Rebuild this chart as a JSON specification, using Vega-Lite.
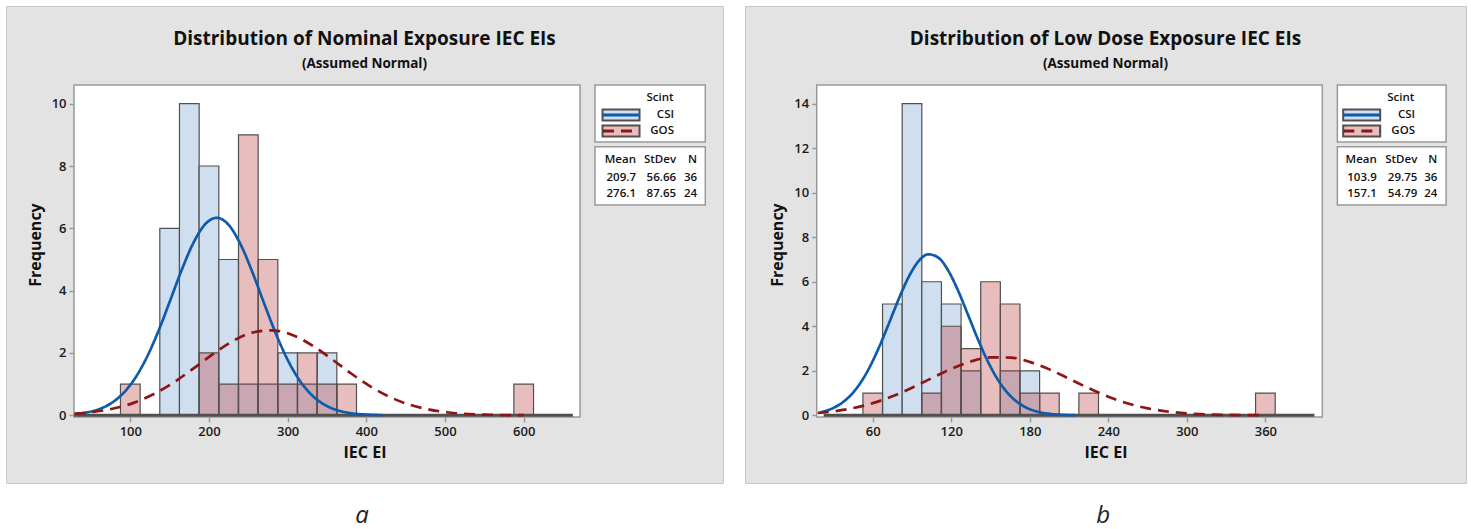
{
  "$schema": "https://vega.github.io/schema/vega-lite/v6.json",
  "background": "#ffffff",
  "padding": {"left": 5, "top": 5, "right": 0, "bottom": 0},
  "spacing": 20,
  "datasets": {
    "binsA": [
      {"Scint": "CSI", "lo": 137.5, "hi": 162.5, "count": 6},
      {"Scint": "CSI", "lo": 162.5, "hi": 187.5, "count": 10},
      {"Scint": "CSI", "lo": 187.5, "hi": 212.5, "count": 8},
      {"Scint": "CSI", "lo": 212.5, "hi": 237.5, "count": 5},
      {"Scint": "CSI", "lo": 237.5, "hi": 262.5, "count": 1},
      {"Scint": "CSI", "lo": 262.5, "hi": 287.5, "count": 1},
      {"Scint": "CSI", "lo": 287.5, "hi": 312.5, "count": 2},
      {"Scint": "CSI", "lo": 312.5, "hi": 337.5, "count": 1},
      {"Scint": "CSI", "lo": 337.5, "hi": 362.5, "count": 2},
      {"Scint": "GOS", "lo": 87.5, "hi": 112.5, "count": 1},
      {"Scint": "GOS", "lo": 187.5, "hi": 212.5, "count": 2},
      {"Scint": "GOS", "lo": 212.5, "hi": 237.5, "count": 1},
      {"Scint": "GOS", "lo": 237.5, "hi": 262.5, "count": 9},
      {"Scint": "GOS", "lo": 262.5, "hi": 287.5, "count": 5},
      {"Scint": "GOS", "lo": 287.5, "hi": 312.5, "count": 1},
      {"Scint": "GOS", "lo": 312.5, "hi": 337.5, "count": 2},
      {"Scint": "GOS", "lo": 337.5, "hi": 362.5, "count": 1},
      {"Scint": "GOS", "lo": 362.5, "hi": 387.5, "count": 1},
      {"Scint": "GOS", "lo": 587.5, "hi": 612.5, "count": 1}
    ],
    "binsB": [
      {"Scint": "CSI", "lo": 67.5, "hi": 82.5, "count": 5},
      {"Scint": "CSI", "lo": 82.5, "hi": 97.5, "count": 14},
      {"Scint": "CSI", "lo": 97.5, "hi": 112.5, "count": 6},
      {"Scint": "CSI", "lo": 112.5, "hi": 127.5, "count": 5},
      {"Scint": "CSI", "lo": 127.5, "hi": 142.5, "count": 2},
      {"Scint": "CSI", "lo": 157.5, "hi": 172.5, "count": 2},
      {"Scint": "CSI", "lo": 172.5, "hi": 187.5, "count": 2},
      {"Scint": "GOS", "lo": 52.5, "hi": 67.5, "count": 1},
      {"Scint": "GOS", "lo": 97.5, "hi": 112.5, "count": 1},
      {"Scint": "GOS", "lo": 112.5, "hi": 127.5, "count": 4},
      {"Scint": "GOS", "lo": 127.5, "hi": 142.5, "count": 3},
      {"Scint": "GOS", "lo": 142.5, "hi": 157.5, "count": 6},
      {"Scint": "GOS", "lo": 157.5, "hi": 172.5, "count": 5},
      {"Scint": "GOS", "lo": 172.5, "hi": 187.5, "count": 1},
      {"Scint": "GOS", "lo": 187.5, "hi": 202.5, "count": 1},
      {"Scint": "GOS", "lo": 217.5, "hi": 232.5, "count": 1},
      {"Scint": "GOS", "lo": 352.5, "hi": 367.5, "count": 1}
    ],
    "curvesA": [
      {"Scint": "CSI", "ei": 30, "freq": 0.041}, {"Scint": "CSI", "ei": 45, "freq": 0.093},
      {"Scint": "CSI", "ei": 60, "freq": 0.193}, {"Scint": "CSI", "ei": 75, "freq": 0.376},
      {"Scint": "CSI", "ei": 90, "freq": 0.681}, {"Scint": "CSI", "ei": 105, "freq": 1.150},
      {"Scint": "CSI", "ei": 120, "freq": 1.810}, {"Scint": "CSI", "ei": 135, "freq": 2.657},
      {"Scint": "CSI", "ei": 150, "freq": 3.638}, {"Scint": "CSI", "ei": 165, "freq": 4.643},
      {"Scint": "CSI", "ei": 180, "freq": 5.523}, {"Scint": "CSI", "ei": 195, "freq": 6.127},
      {"Scint": "CSI", "ei": 210, "freq": 6.337}, {"Scint": "CSI", "ei": 225, "freq": 6.110},
      {"Scint": "CSI", "ei": 240, "freq": 5.493}, {"Scint": "CSI", "ei": 255, "freq": 4.604},
      {"Scint": "CSI", "ei": 270, "freq": 3.597}, {"Scint": "CSI", "ei": 285, "freq": 2.620},
      {"Scint": "CSI", "ei": 300, "freq": 1.779}, {"Scint": "CSI", "ei": 315, "freq": 1.127},
      {"Scint": "CSI", "ei": 330, "freq": 0.665}, {"Scint": "CSI", "ei": 345, "freq": 0.366},
      {"Scint": "CSI", "ei": 360, "freq": 0.188}, {"Scint": "CSI", "ei": 375, "freq": 0.090},
      {"Scint": "CSI", "ei": 390, "freq": 0.040}, {"Scint": "CSI", "ei": 405, "freq": 0.017},
      {"Scint": "CSI", "ei": 420, "freq": 0.007},
      {"Scint": "GOS", "ei": 29, "freq": 0.052}, {"Scint": "GOS", "ei": 55, "freq": 0.113},
      {"Scint": "GOS", "ei": 80, "freq": 0.224}, {"Scint": "GOS", "ei": 105, "freq": 0.406},
      {"Scint": "GOS", "ei": 130, "freq": 0.681}, {"Scint": "GOS", "ei": 155, "freq": 1.052},
      {"Scint": "GOS", "ei": 180, "freq": 1.497}, {"Scint": "GOS", "ei": 205, "freq": 1.966},
      {"Scint": "GOS", "ei": 230, "freq": 2.378}, {"Scint": "GOS", "ei": 255, "freq": 2.653},
      {"Scint": "GOS", "ei": 280, "freq": 2.728}, {"Scint": "GOS", "ei": 305, "freq": 2.587},
      {"Scint": "GOS", "ei": 330, "freq": 2.260}, {"Scint": "GOS", "ei": 355, "freq": 1.821},
      {"Scint": "GOS", "ei": 380, "freq": 1.353}, {"Scint": "GOS", "ei": 405, "freq": 0.926},
      {"Scint": "GOS", "ei": 430, "freq": 0.585}, {"Scint": "GOS", "ei": 455, "freq": 0.340},
      {"Scint": "GOS", "ei": 480, "freq": 0.183}, {"Scint": "GOS", "ei": 505, "freq": 0.090},
      {"Scint": "GOS", "ei": 530, "freq": 0.041}, {"Scint": "GOS", "ei": 555, "freq": 0.017},
      {"Scint": "GOS", "ei": 580, "freq": 0.007}, {"Scint": "GOS", "ei": 600, "freq": 0.003}
    ],
    "curvesB": [
      {"Scint": "CSI", "ei": 20, "freq": 0.136}, {"Scint": "CSI", "ei": 27.5, "freq": 0.268},
      {"Scint": "CSI", "ei": 35, "freq": 0.496}, {"Scint": "CSI", "ei": 42.5, "freq": 0.861},
      {"Scint": "CSI", "ei": 50, "freq": 1.403}, {"Scint": "CSI", "ei": 57.5, "freq": 2.146},
      {"Scint": "CSI", "ei": 65, "freq": 3.080}, {"Scint": "CSI", "ei": 72.5, "freq": 4.148},
      {"Scint": "CSI", "ei": 80, "freq": 5.244}, {"Scint": "CSI", "ei": 87.5, "freq": 6.220},
      {"Scint": "CSI", "ei": 95, "freq": 6.924}, {"Scint": "CSI", "ei": 102.5, "freq": 7.233},
      {"Scint": "CSI", "ei": 110, "freq": 7.090}, {"Scint": "CSI", "ei": 117.5, "freq": 6.523},
      {"Scint": "CSI", "ei": 125, "freq": 5.631}, {"Scint": "CSI", "ei": 132.5, "freq": 4.561},
      {"Scint": "CSI", "ei": 140, "freq": 3.468}, {"Scint": "CSI", "ei": 147.5, "freq": 2.474},
      {"Scint": "CSI", "ei": 155, "freq": 1.657}, {"Scint": "CSI", "ei": 162.5, "freq": 1.041},
      {"Scint": "CSI", "ei": 170, "freq": 0.614}, {"Scint": "CSI", "ei": 177.5, "freq": 0.340},
      {"Scint": "CSI", "ei": 185, "freq": 0.176}, {"Scint": "CSI", "ei": 192.5, "freq": 0.086},
      {"Scint": "CSI", "ei": 200, "freq": 0.039}, {"Scint": "CSI", "ei": 207.5, "freq": 0.017},
      {"Scint": "CSI", "ei": 215, "freq": 0.007},
      {"Scint": "GOS", "ei": 18, "freq": 0.104}, {"Scint": "GOS", "ei": 30, "freq": 0.178},
      {"Scint": "GOS", "ei": 45, "freq": 0.323}, {"Scint": "GOS", "ei": 60, "freq": 0.545},
      {"Scint": "GOS", "ei": 75, "freq": 0.853}, {"Scint": "GOS", "ei": 90, "freq": 1.238},
      {"Scint": "GOS", "ei": 105, "freq": 1.668}, {"Scint": "GOS", "ei": 120, "freq": 2.084},
      {"Scint": "GOS", "ei": 135, "freq": 2.416}, {"Scint": "GOS", "ei": 150, "freq": 2.599},
      {"Scint": "GOS", "ei": 165, "freq": 2.594}, {"Scint": "GOS", "ei": 180, "freq": 2.402},
      {"Scint": "GOS", "ei": 195, "freq": 2.063}, {"Scint": "GOS", "ei": 210, "freq": 1.645},
      {"Scint": "GOS", "ei": 225, "freq": 1.216}, {"Scint": "GOS", "ei": 240, "freq": 0.835},
      {"Scint": "GOS", "ei": 255, "freq": 0.531}, {"Scint": "GOS", "ei": 270, "freq": 0.314},
      {"Scint": "GOS", "ei": 285, "freq": 0.172}, {"Scint": "GOS", "ei": 300, "freq": 0.087},
      {"Scint": "GOS", "ei": 315, "freq": 0.041}, {"Scint": "GOS", "ei": 330, "freq": 0.018},
      {"Scint": "GOS", "ei": 345, "freq": 0.007}, {"Scint": "GOS", "ei": 360, "freq": 0.003}
    ],
    "statsA": [
      {"Scint": "CSI", "Mean": "209.7", "StDev": "56.66", "N": "36"},
      {"Scint": "GOS", "Mean": "276.1", "StDev": "87.65", "N": "24"}
    ],
    "statsB": [
      {"Scint": "CSI", "Mean": "103.9", "StDev": "29.75", "N": "36"},
      {"Scint": "GOS", "Mean": "157.1", "StDev": "54.79", "N": "24"}
    ]
  },
  "hconcat": [
    {
      "width": 717,
      "height": 477,
      "title": {"text": "Distribution of Nominal Exposure IEC EIs", "subtitle": "(Assumed Normal)", "offset": -64},
      "layer": [
        {
          "data": {"values": [{}]},
          "mark": {"type": "rect", "fill": "#ffffff", "stroke": "#9a9a9a", "strokeWidth": 1.5},
          "encoding": {
            "x": {"datum": 28.44, "type": "quantitative", "scale": {"domain": [-57.98, 853.3], "nice": false, "zero": false},
                  "axis": {"values": [100, 200, 300, 400, 500, 600], "offset": -66, "title": "IEC EI"}},
            "x2": {"datum": 671.6},
            "y": {"datum": 10.6, "type": "quantitative", "scale": {"domain": [-2.173, 13.135], "nice": false, "zero": false},
                  "axis": {"values": [0, 2, 4, 6, 8, 10], "offset": -68, "title": "Frequency"}},
            "y2": {"datum": -0.055}
          }
        },
        {
          "data": {"name": "binsA"},
          "transform": [{"filter": "datum.Scint == 'CSI'"}],
          "mark": {"type": "rect", "fill": "#d0dff0", "stroke": "#505050", "strokeWidth": 1.2},
          "encoding": {
            "x": {"field": "lo", "type": "quantitative"},
            "x2": {"field": "hi"},
            "y": {"field": "count", "type": "quantitative"},
            "y2": {"datum": 0}
          }
        },
        {
          "data": {"name": "binsA"},
          "transform": [{"filter": "datum.Scint == 'GOS'"}],
          "mark": {"type": "rect", "fill": "#b83131", "fillOpacity": 0.32, "stroke": "#505050", "strokeWidth": 1.2},
          "encoding": {
            "x": {"field": "lo", "type": "quantitative"},
            "x2": {"field": "hi"},
            "y": {"field": "count", "type": "quantitative"},
            "y2": {"datum": 0}
          }
        },
        {
          "data": {"values": [{}]},
          "mark": {"type": "rule", "stroke": "#505050", "strokeWidth": 3},
          "encoding": {"x": {"datum": 28.5}, "x2": {"datum": 662.5}, "y": {"datum": 0}}
        },
        {
          "data": {"name": "curvesA"},
          "mark": {"type": "line", "strokeWidth": 2.7, "interpolate": "monotone"},
          "encoding": {
            "x": {"field": "ei", "type": "quantitative"},
            "y": {"field": "freq", "type": "quantitative"},
            "stroke": {"field": "Scint", "type": "nominal", "scale": {"domain": ["CSI", "GOS"], "range": ["#0d5ba9", "#8e1515"]}, "legend": null},
            "strokeDash": {"field": "Scint", "type": "nominal", "scale": {"domain": ["CSI", "GOS"], "range": [[1, 0], [11, 7]]}, "legend": null}
          }
        },
        {
          "data": {"values": [{}]},
          "mark": {"type": "rect", "fill": "#ffffff", "stroke": "#9a9a9a", "strokeWidth": 1.5},
          "encoding": {"x": {"datum": 690.6}, "x2": {"datum": 830.8}, "y": {"datum": 10.6}, "y2": {"datum": 8.771}}
        },
        {
          "data": {"values": [{}]},
          "mark": {"type": "rect", "fill": "#ffffff", "stroke": "#9a9a9a", "strokeWidth": 1.5},
          "encoding": {"x": {"datum": 690.6}, "x2": {"datum": 830.8}, "y": {"datum": 8.62}, "y2": {"datum": 6.749}}
        },
        {
          "data": {"values": [{}]},
          "mark": {"type": "text", "text": "Scint", "align": "center"},
          "encoding": {"x": {"datum": 773.2}, "y": {"datum": 10.183}}
        },
        {
          "data": {"name": "statsA"},
          "mark": {"type": "rect", "width": 37, "height": 11, "stroke": "#505050", "strokeWidth": 2},
          "encoding": {
            "x": {"datum": 723.7}, "y": {"datum": 9.637},
            "yOffset": {"field": "Scint", "type": "nominal", "scale": {"type": "point", "domain": ["CSI", "GOS"], "range": [0, 16], "padding": 0}},
            "fill": {"field": "Scint", "type": "nominal", "scale": {"domain": ["CSI", "GOS"], "range": ["#d0dff0", "#e9bdbd"]}, "legend": null}
          }
        },
        {
          "data": {"name": "statsA"},
          "mark": {"type": "rule", "strokeWidth": 3},
          "encoding": {
            "x": {"datum": 700.8}, "x2": {"datum": 746.5}, "y": {"datum": 9.637},
            "yOffset": {"field": "Scint", "type": "nominal", "scale": {"type": "point", "domain": ["CSI", "GOS"], "range": [0, 16], "padding": 0}},
            "stroke": {"field": "Scint", "type": "nominal", "scale": {"domain": ["CSI", "GOS"], "range": ["#0d5ba9", "#8e1515"]}, "legend": null},
            "strokeDash": {"field": "Scint", "type": "nominal", "scale": {"domain": ["CSI", "GOS"], "range": [[1, 0], [11, 7]]}, "legend": null}
          }
        },
        {
          "data": {"name": "statsA"},
          "mark": {"type": "text", "align": "right"},
          "encoding": {
            "x": {"datum": 791.0}, "y": {"datum": 9.637},
            "yOffset": {"field": "Scint", "type": "nominal", "scale": {"type": "point", "domain": ["CSI", "GOS"], "range": [0, 16], "padding": 0}},
            "text": {"field": "Scint", "type": "nominal"}
          }
        },
        {
          "data": {"values": [{}]},
          "mark": {"type": "text", "text": "Mean", "align": "right"},
          "encoding": {"x": {"datum": 742.7}, "y": {"datum": 8.183}}
        },
        {
          "data": {"values": [{}]},
          "mark": {"type": "text", "text": "StDev", "align": "right"},
          "encoding": {"x": {"datum": 793.6}, "y": {"datum": 8.183}}
        },
        {
          "data": {"values": [{}]},
          "mark": {"type": "text", "text": "N", "align": "right"},
          "encoding": {"x": {"datum": 820.3}, "y": {"datum": 8.183}}
        },
        {
          "data": {"name": "statsA"},
          "mark": {"type": "text", "align": "right"},
          "encoding": {
            "x": {"datum": 742.7}, "y": {"datum": 7.625},
            "yOffset": {"field": "Scint", "type": "nominal", "scale": {"type": "point", "domain": ["CSI", "GOS"], "range": [0, 16], "padding": 0}},
            "text": {"field": "Mean", "type": "nominal"}
          }
        },
        {
          "data": {"name": "statsA"},
          "mark": {"type": "text", "align": "right"},
          "encoding": {
            "x": {"datum": 793.6}, "y": {"datum": 7.625},
            "yOffset": {"field": "Scint", "type": "nominal", "scale": {"type": "point", "domain": ["CSI", "GOS"], "range": [0, 16], "padding": 0}},
            "text": {"field": "StDev", "type": "nominal"}
          }
        },
        {
          "data": {"name": "statsA"},
          "mark": {"type": "text", "align": "right"},
          "encoding": {
            "x": {"datum": 820.3}, "y": {"datum": 7.625},
            "yOffset": {"field": "Scint", "type": "nominal", "scale": {"type": "point", "domain": ["CSI", "GOS"], "range": [0, 16], "padding": 0}},
            "text": {"field": "N", "type": "nominal"}
          }
        },
        {
          "data": {"values": [{}]},
          "mark": {"type": "text", "text": "a", "fontSize": 24, "fontStyle": "italic", "fontWeight": "normal", "color": "#222222"},
          "encoding": {"x": {"datum": 394.5}, "y": {"datum": -3.232}}
        }
      ]
    },
    {
      "width": 721,
      "height": 477,
      "title": {"text": "Distribution of Low Dose Exposure IEC EIs", "subtitle": "(Assumed Normal)", "offset": -64},
      "layer": [
        {
          "data": {"values": [{}]},
          "mark": {"type": "rect", "fill": "#ffffff", "stroke": "#9a9a9a", "strokeWidth": 1.5},
          "encoding": {
            "x": {"datum": 17.2, "type": "quantitative", "scale": {"domain": [-37.6, 513.3], "nice": false, "zero": false},
                  "axis": {"values": [60, 120, 180, 240, 300, 360], "offset": -66, "title": "IEC EI"}},
            "x2": {"datum": 403.5},
            "y": {"datum": 14.84, "type": "quantitative", "scale": {"domain": [-3.042, 18.39], "nice": false, "zero": false},
                  "axis": {"values": [0, 2, 4, 6, 8, 10, 12, 14], "offset": -71.7, "title": "Frequency"}},
            "y2": {"datum": -0.076}
          }
        },
        {
          "data": {"name": "binsB"},
          "transform": [{"filter": "datum.Scint == 'CSI'"}],
          "mark": {"type": "rect", "fill": "#d0dff0", "stroke": "#505050", "strokeWidth": 1.2},
          "encoding": {
            "x": {"field": "lo", "type": "quantitative"},
            "x2": {"field": "hi"},
            "y": {"field": "count", "type": "quantitative"},
            "y2": {"datum": 0}
          }
        },
        {
          "data": {"name": "binsB"},
          "transform": [{"filter": "datum.Scint == 'GOS'"}],
          "mark": {"type": "rect", "fill": "#b83131", "fillOpacity": 0.32, "stroke": "#505050", "strokeWidth": 1.2},
          "encoding": {
            "x": {"field": "lo", "type": "quantitative"},
            "x2": {"field": "hi"},
            "y": {"field": "count", "type": "quantitative"},
            "y2": {"datum": 0}
          }
        },
        {
          "data": {"values": [{}]},
          "mark": {"type": "rule", "stroke": "#505050", "strokeWidth": 3},
          "encoding": {"x": {"datum": 22.5}, "x2": {"datum": 397.5}, "y": {"datum": 0}}
        },
        {
          "data": {"name": "curvesB"},
          "mark": {"type": "line", "strokeWidth": 2.7, "interpolate": "monotone"},
          "encoding": {
            "x": {"field": "ei", "type": "quantitative"},
            "y": {"field": "freq", "type": "quantitative"},
            "stroke": {"field": "Scint", "type": "nominal", "scale": {"domain": ["CSI", "GOS"], "range": ["#0d5ba9", "#8e1515"]}, "legend": null},
            "strokeDash": {"field": "Scint", "type": "nominal", "scale": {"domain": ["CSI", "GOS"], "range": [[1, 0], [11, 7]]}, "legend": null}
          }
        },
        {
          "data": {"values": [{}]},
          "mark": {"type": "rect", "fill": "#ffffff", "stroke": "#9a9a9a", "strokeWidth": 1.5},
          "encoding": {"x": {"datum": 415.0}, "x2": {"datum": 498.1}, "y": {"datum": 14.84}, "y2": {"datum": 12.279}}
        },
        {
          "data": {"values": [{}]},
          "mark": {"type": "rect", "fill": "#ffffff", "stroke": "#9a9a9a", "strokeWidth": 1.5},
          "encoding": {"x": {"datum": 415.0}, "x2": {"datum": 498.1}, "y": {"datum": 12.068}, "y2": {"datum": 9.449}}
        },
        {
          "data": {"values": [{}]},
          "mark": {"type": "text", "text": "Scint", "align": "center"},
          "encoding": {"x": {"datum": 463.5}, "y": {"datum": 14.256}}
        },
        {
          "data": {"name": "statsB"},
          "mark": {"type": "rect", "width": 37, "height": 11, "stroke": "#505050", "strokeWidth": 2},
          "encoding": {
            "x": {"datum": 433.6}, "y": {"datum": 13.492},
            "yOffset": {"field": "Scint", "type": "nominal", "scale": {"type": "point", "domain": ["CSI", "GOS"], "range": [0, 16], "padding": 0}},
            "fill": {"field": "Scint", "type": "nominal", "scale": {"domain": ["CSI", "GOS"], "range": ["#d0dff0", "#e9bdbd"]}, "legend": null}
          }
        },
        {
          "data": {"name": "statsB"},
          "mark": {"type": "rule", "strokeWidth": 3},
          "encoding": {
            "x": {"datum": 419.6}, "x2": {"datum": 447.6}, "y": {"datum": 13.492},
            "yOffset": {"field": "Scint", "type": "nominal", "scale": {"type": "point", "domain": ["CSI", "GOS"], "range": [0, 16], "padding": 0}},
            "stroke": {"field": "Scint", "type": "nominal", "scale": {"domain": ["CSI", "GOS"], "range": ["#0d5ba9", "#8e1515"]}, "legend": null},
            "strokeDash": {"field": "Scint", "type": "nominal", "scale": {"domain": ["CSI", "GOS"], "range": [[1, 0], [11, 7]]}, "legend": null}
          }
        },
        {
          "data": {"name": "statsB"},
          "mark": {"type": "text", "align": "right"},
          "encoding": {
            "x": {"datum": 474.4}, "y": {"datum": 13.492},
            "yOffset": {"field": "Scint", "type": "nominal", "scale": {"type": "point", "domain": ["CSI", "GOS"], "range": [0, 16], "padding": 0}},
            "text": {"field": "Scint", "type": "nominal"}
          }
        },
        {
          "data": {"values": [{}]},
          "mark": {"type": "text", "text": "Mean", "align": "right"},
          "encoding": {"x": {"datum": 445.1}, "y": {"datum": 11.457}}
        },
        {
          "data": {"values": [{}]},
          "mark": {"type": "text", "text": "StDev", "align": "right"},
          "encoding": {"x": {"datum": 476.1}, "y": {"datum": 11.457}}
        },
        {
          "data": {"values": [{}]},
          "mark": {"type": "text", "text": "N", "align": "right"},
          "encoding": {"x": {"datum": 491.4}, "y": {"datum": 11.457}}
        },
        {
          "data": {"name": "statsB"},
          "mark": {"type": "text", "align": "right"},
          "encoding": {
            "x": {"datum": 445.1}, "y": {"datum": 10.675},
            "yOffset": {"field": "Scint", "type": "nominal", "scale": {"type": "point", "domain": ["CSI", "GOS"], "range": [0, 16], "padding": 0}},
            "text": {"field": "Mean", "type": "nominal"}
          }
        },
        {
          "data": {"name": "statsB"},
          "mark": {"type": "text", "align": "right"},
          "encoding": {
            "x": {"datum": 476.1}, "y": {"datum": 10.675},
            "yOffset": {"field": "Scint", "type": "nominal", "scale": {"type": "point", "domain": ["CSI", "GOS"], "range": [0, 16], "padding": 0}},
            "text": {"field": "StDev", "type": "nominal"}
          }
        },
        {
          "data": {"name": "statsB"},
          "mark": {"type": "text", "align": "right"},
          "encoding": {
            "x": {"datum": 491.4}, "y": {"datum": 10.675},
            "yOffset": {"field": "Scint", "type": "nominal", "scale": {"type": "point", "domain": ["CSI", "GOS"], "range": [0, 16], "padding": 0}},
            "text": {"field": "N", "type": "nominal"}
          }
        },
        {
          "data": {"values": [{}]},
          "mark": {"type": "text", "text": "b", "fontSize": 24, "fontStyle": "italic", "fontWeight": "normal", "color": "#222222"},
          "encoding": {"x": {"datum": 236.0}, "y": {"datum": -4.524}}
        }
      ]
    }
  ],
  "config": {
    "font": "Open Sans",
    "view": {"fill": "#e3e3e3", "stroke": "#c8c8c8", "strokeWidth": 1},
    "title": {"fontSize": 19, "fontWeight": "bold", "color": "#111111", "subtitleFontSize": 13.5, "subtitleFontWeight": "bold", "subtitleColor": "#111111", "subtitlePadding": 8, "anchor": "middle", "frame": "group"},
    "axis": {"grid": false, "domain": false, "tickColor": "#9a9a9a", "tickWidth": 1.5, "tickSize": 5, "labelFontSize": 13, "labelFontWeight": 600, "labelColor": "#1a1a1a", "labelPadding": 3, "titleFontSize": 16, "titleFontWeight": "bold", "titleColor": "#111111", "zindex": 1},
    "axisX": {"titlePadding": 6},
    "axisY": {"titlePadding": 8},
    "text": {"fontSize": 11.5, "fontWeight": 600, "color": "#111111", "baseline": "middle"}
  }
}
